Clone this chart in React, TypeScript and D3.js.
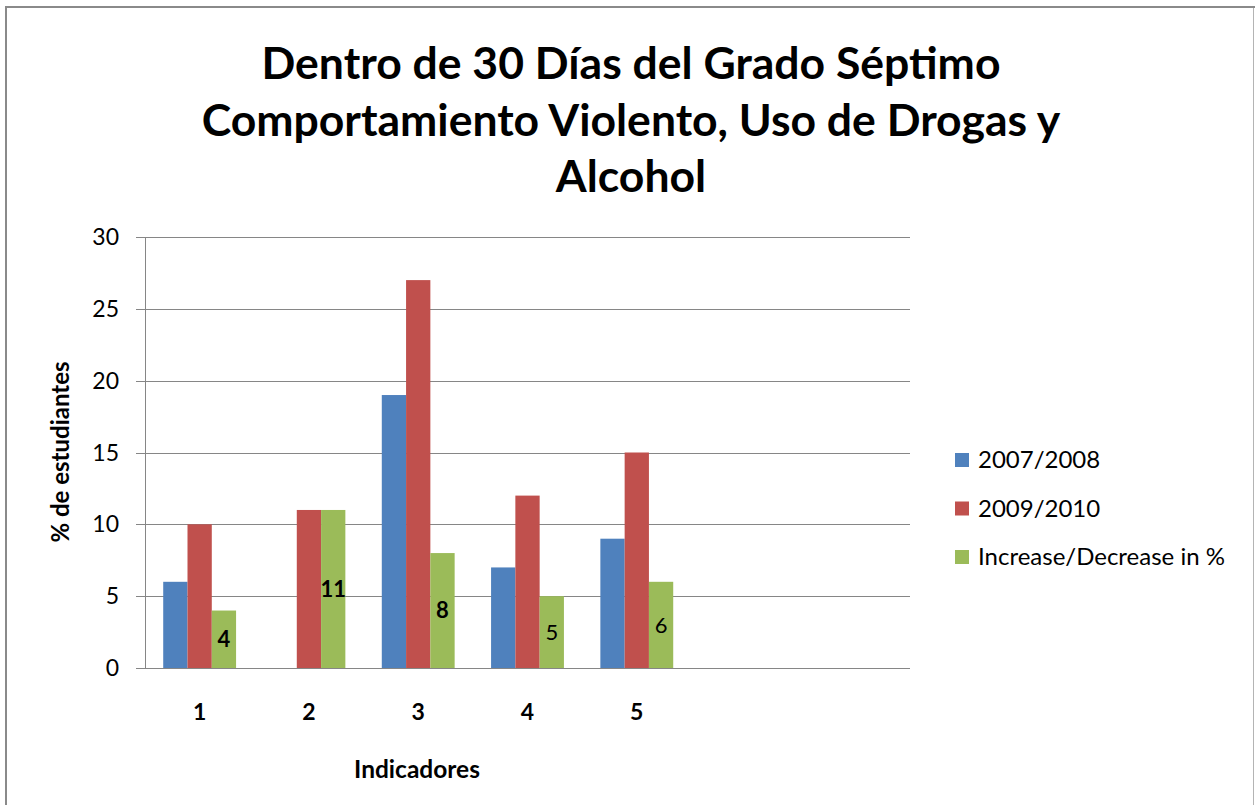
import React from "react";
import * as d3 from "d3";

const categoryLabels = ["1", "2", "3", "4", "5", "", ""];
const seriesNames = ["2007/2008", "2009/2010", "Increase/Decrease in %"];
const values2007: (number | null)[] = [6, null, 19, 7, 9, null, null];
const values2009: (number | null)[] = [10, 11, 27, 12, 15, null, null];
const valuesChange: (number | null)[] = [4, 11, 8, 5, 6, null, null];
const yTicks = [0, 5, 10, 15, 20, 25, 30];
const titleLines = [
  "Dentro de 30 Días del Grado Séptimo",
  "Comportamiento Violento, Uso de Drogas y",
  "Alcohol",
];
const yAxisTitle = "% de estudiantes";
const xAxisTitle = "Indicadores";

const colors = ["#4F81BD", "#C0504D", "#9BBB59"];
const labelWeights = ["bold", "bold", "bold", "normal", "normal", "normal", "normal"];
const FONT = "Lato, 'Open Sans', sans-serif";

export default function App() {
  const W = 1255;
  const H = 805;
  const plot = { left: 145, right: 910, top: 237, bottom: 668 };
  const allSeries = [values2007, values2009, valuesChange];

  const x = d3
    .scaleBand<number>()
    .domain(d3.range(categoryLabels.length))
    .range([plot.left, plot.right])
    .paddingInner(0.6 / 1.8)
    .paddingOuter(0.3 / 1.8);
  const xs = d3
    .scaleBand<number>()
    .domain(d3.range(allSeries.length))
    .range([0, x.bandwidth()]);
  const y = d3.scaleLinear().domain([0, 30]).range([plot.bottom, plot.top]);

  return (
    <svg
      width={W}
      height={H}
      style={{ position: "absolute", left: 0, top: 0, background: "#fff" }}
      fontFamily={FONT}
    >
      {/* outer frame */}
      <line x1={6} y1={7} x2={6} y2={H} stroke="#8a8a8a" strokeWidth={2} />
      <line x1={5} y1={7} x2={1255} y2={7} stroke="#8a8a8a" strokeWidth={2} />
      <line x1={1253.5} y1={8} x2={1253.5} y2={H} stroke="#b4b4b4" strokeWidth={1} />

      {/* title */}
      {titleLines.map((t, i) => (
        <text
          key={i}
          x={631}
          y={79 + i * 56.5}
          textAnchor="middle"
          fontSize={44.5}
          fontWeight="bold"
          fill="#000"
        >
          {t}
        </text>
      ))}

      {/* gridlines and y ticks */}
      {yTicks.map((t) => (
        <g key={t}>
          <line
            x1={plot.left - 9}
            x2={plot.right}
            y1={Math.round(y(t)) + 0.5}
            y2={Math.round(y(t)) + 0.5}
            stroke="#868686"
            strokeWidth={1}
          />
          <text
            x={119}
            y={y(t)}
            dy="0.35em"
            textAnchor="end"
            fontSize={23}
            fill="#000"
          >
            {t}
          </text>
        </g>
      ))}
      <line
        x1={plot.left + 0.5}
        x2={plot.left + 0.5}
        y1={plot.top}
        y2={plot.bottom}
        stroke="#868686"
        strokeWidth={1}
      />

      {/* bars */}
      {allSeries.map((vals, si) =>
        vals.map((v, ci) =>
          v == null ? null : (
            <rect
              key={`${si}-${ci}`}
              x={(x(ci) as number) + (xs(si) as number)}
              y={y(v)}
              width={xs.bandwidth()}
              height={y(0) - y(v)}
              fill={colors[si]}
            />
          )
        )
      )}

      {/* data labels on change series */}
      {valuesChange.map((v, ci) =>
        v == null ? null : (
          <text
            key={`lbl-${ci}`}
            x={(x(ci) as number) + (xs(2) as number) + xs.bandwidth() / 2}
            y={(y(v) + y(0)) / 2}
            dy="0.36em"
            textAnchor="middle"
            fontSize={22}
            fontWeight={labelWeights[ci]}
            fill="#000"
          >
            {v}
          </text>
        )
      )}

      {/* x axis line */}
      <line
        x1={plot.left}
        x2={plot.right}
        y1={plot.bottom + 0.5}
        y2={plot.bottom + 0.5}
        stroke="#868686"
        strokeWidth={1}
      />

      {/* x tick labels */}
      {categoryLabels.map((c, ci) =>
        c ? (
          <text
            key={`xt-${ci}`}
            x={(x(ci) as number) + x.bandwidth() / 2}
            y={720}
            textAnchor="middle"
            fontSize={23}
            fontWeight="bold"
            fill="#000"
          >
            {c}
          </text>
        ) : null
      )}

      {/* axis titles */}
      <text x={417} y={778} textAnchor="middle" fontSize={24.5} fontWeight="bold" fill="#000">
        {xAxisTitle}
      </text>
      <text
        transform={`translate(69,452) rotate(-90)`}
        textAnchor="middle"
        fontSize={24}
        fontWeight="bold"
        fill="#000"
      >
        {yAxisTitle}
      </text>

      {/* legend */}
      {seriesNames.map((s, i) => (
        <g key={s} transform={`translate(955,${453 + i * 48.5})`}>
          <rect x={0} y={0} width={14} height={14} fill={colors[i]} />
          <text x={23} y={15} fontSize={24} fill="#000">
            {s}
          </text>
        </g>
      ))}
    </svg>
  );
}
